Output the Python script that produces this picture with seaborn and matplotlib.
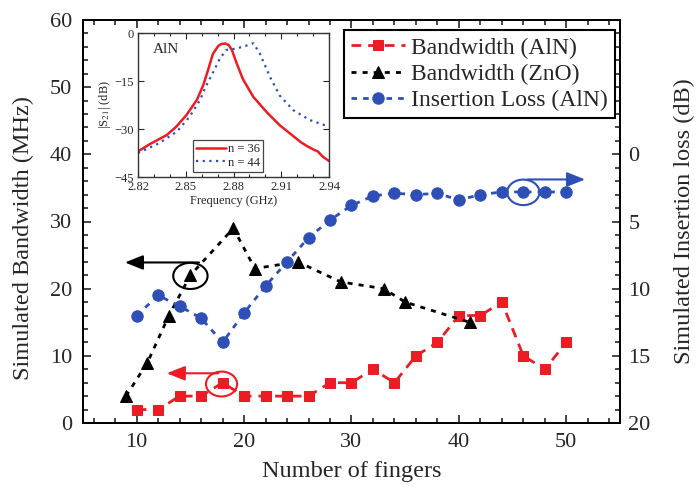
import matplotlib
matplotlib.use("Agg")
import matplotlib.pyplot as plt
import seaborn as sns
import pandas as pd
from matplotlib.patches import Ellipse
from matplotlib.ticker import MultipleLocator, FixedLocator

# ---------------- data ----------------
fingers_aln = [10, 12, 14, 16, 18, 20, 22, 24, 26, 28, 30, 32, 34, 36, 38, 40, 42, 44, 46, 48, 50]
bw_aln = [2, 2, 4, 4, 6, 4, 4, 4, 4, 6, 6, 8, 6, 10, 12, 16, 16, 18, 10, 8, 12]

fingers_zno = [9, 11, 13, 15, 19, 21, 25, 29, 33, 35, 41]
bw_zno = [4, 9, 16, 22, 29, 23, 24, 21, 20, 18, 15]

fingers_il = [10, 12, 14, 16, 18, 20, 22, 24, 26, 28, 30, 32, 34, 36, 38, 40, 42, 44, 46, 48, 50]
il_aln = [12.0, 10.5, 11.3, 12.2, 14.0, 11.8, 9.8, 8.0, 6.2, 4.9, 3.8, 3.1, 2.9, 3.0, 2.9, 3.4,
          3.0, 2.8, 2.8, 2.8, 2.8]

# inset: |S21| spectra
freq_36 = [2.820, 2.8275, 2.838, 2.844, 2.8505, 2.857, 2.861, 2.864, 2.867, 2.8705, 2.8725, 2.875,
           2.877, 2.879, 2.882, 2.886, 2.8925, 2.901, 2.909, 2.915, 2.922, 2.926, 2.931, 2.933,
           2.936, 2.940]
s21_36 = [-37.0, -34.7, -31.9, -29.3, -25.6, -20.9, -16.3, -11.6, -6.6, -4.0, -3.4, -3.3,
          -3.8, -5.3, -9.5, -14.5, -20.0, -24.8, -28.8, -31.2, -34.0, -35.3, -36.6, -37.0,
          -38.6, -40.0]
freq_44 = [2.820, 2.8265, 2.833, 2.8445, 2.8525, 2.859, 2.863, 2.8685, 2.8715, 2.8755, 2.880,
           2.886, 2.8925, 2.8965, 2.903, 2.909, 2.9175, 2.928, 2.940]
s21_44 = [-37.5, -36.0, -34.5, -30.8, -26.1, -20.9, -16.3, -11.0, -7.9, -5.3, -5.0,
          -4.3, -3.2, -6.4, -13.8, -19.5, -24.1, -27.2, -29.3]

RED = "#ec1c24"
BLUE = "#2d4fb6"
BLACK = "#000000"

sns.set_style("ticks")
plt.rcParams["font.family"] = ["Liberation Serif", "DejaVu Serif"]
plt.rcParams["mathtext.fontset"] = "stix"

W, H = 697, 491
fig = plt.figure(figsize=(W / 100, H / 100), dpi=100)
fig.patch.set_facecolor("white")
ax = fig.add_axes([83 / W, 1 - 423 / H, (620 - 83) / W, (423 - 20) / H])

df_aln = pd.DataFrame({"n": fingers_aln, "bw": bw_aln})
df_zno = pd.DataFrame({"n": fingers_zno, "bw": bw_zno})
df_il = pd.DataFrame({"n": fingers_il, "il": il_aln})

sns.lineplot(data=df_aln, x="n", y="bw", ax=ax, color=RED, marker="s", markersize=7.5,
             markeredgecolor=RED, linestyle=(0, (3.5, 2.5)), linewidth=2,
             label="Bandwidth (AlN)")
sns.lineplot(data=df_zno, x="n", y="bw", ax=ax, color=BLACK, marker="^", markersize=9,
             markeredgecolor=BLACK, linestyle=(0, (1.8, 2.2)), linewidth=2,
             label="Bandwidth (ZnO)")

ax2 = ax.twinx()
sns.lineplot(data=df_il, x="n", y="il", ax=ax2, color=BLUE, marker="o", markersize=8.2,
             markeredgecolor=BLUE, linestyle=(0, (2, 2.2)), linewidth=2,
             label="Insertion Loss (AlN)")

ax.set_xlim(5, 55)
ax.set_ylim(0, 60)
ax2.set_ylim(20, -10)

ax.xaxis.set_major_locator(MultipleLocator(10))
ax.xaxis.set_minor_locator(MultipleLocator(2))
ax.yaxis.set_major_locator(MultipleLocator(10))
ax.yaxis.set_minor_locator(MultipleLocator(2))
ax2.yaxis.set_major_locator(FixedLocator([0, 5, 10, 15, 20]))
ax2.yaxis.set_minor_locator(MultipleLocator(1))

ax.tick_params(which="both", direction="in", top=True, right=False, labelsize=16, width=1.2)
ax.tick_params(which="major", length=6)
ax.tick_params(which="minor", length=3.5)
ax.tick_params(axis="y", pad=8)
ax.tick_params(axis="x", pad=7)
ax2.tick_params(which="both", direction="in", right=True, labelsize=16, width=1.2, pad=6)
ax2.tick_params(which="major", length=6)
ax2.tick_params(which="minor", length=3.5)
for a in (ax, ax2):
    for s in a.spines.values():
        s.set_linewidth(1.3)
        s.set_color("black")

ax.set_xlabel("Number of fingers", fontsize=17.5, labelpad=7)
ax.set_ylabel("Simulated Bandwidth (MHz)", fontsize=17.5, labelpad=11, y=0.46)
ax2.set_ylabel("Simulated Insertion loss (dB)", fontsize=17.5, labelpad=17)

# annotations: ellipses + arrows
arrow_kw = dict(arrowstyle="-|>,head_length=0.55,head_width=0.22", lw=1.5,
                shrinkA=0, shrinkB=0, mutation_scale=20)
ax.add_patch(Ellipse((15.0, 21.9), 3.2, 3.9, fill=False, ec=BLACK, lw=1.5, zorder=5))
ax.annotate("", xy=(8.9, 23.9), xytext=(15.8, 23.9),
            arrowprops=dict(color=BLACK, **arrow_kw), zorder=5)
ax.add_patch(Ellipse((17.9, 5.8), 2.9, 3.7, fill=False, ec=RED, lw=1.5, zorder=5))
ax.annotate("", xy=(12.8, 7.4), xytext=(17.6, 7.4),
            arrowprops=dict(color=RED, **arrow_kw), zorder=5)
ax2.add_patch(Ellipse((46.0, 2.83), 3.0, 1.9, fill=False, ec=BLUE, lw=1.5, zorder=5))
ax2.annotate("", xy=(51.75, 1.87), xytext=(46.4, 1.87),
             arrowprops=dict(color=BLUE, **arrow_kw), zorder=5)

# legend
h1, l1 = ax.get_legend_handles_labels()
h2, l2 = ax2.get_legend_handles_labels()
if ax.get_legend() is not None:
    ax.get_legend().remove()
if ax2.get_legend() is not None:
    ax2.get_legend().remove()
leg = ax2.legend(h1 + h2, l1 + l2, loc="upper right",
                 bbox_to_anchor=(615 / W, 1 - 30 / H), bbox_transform=fig.transFigure,
                 frameon=True, fancybox=False, edgecolor="black", fontsize=17,
                 handlelength=2.3, handletextpad=0.25, labelspacing=0.2, borderaxespad=0,
                 borderpad=0.3, framealpha=1)
leg.get_frame().set_linewidth(1.5)

# inset
ins = fig.add_axes([138 / W, 1 - 177 / H, (329 - 138) / W, (177 - 33) / H])
ins.set_facecolor("white")
df36 = pd.DataFrame({"f": freq_36, "s": s21_36})
df44 = pd.DataFrame({"f": freq_44, "s": s21_44})
sns.lineplot(data=df36, x="f", y="s", ax=ins, color=RED, linewidth=1.8, label="n = 36")
sns.lineplot(data=df44, x="f", y="s", ax=ins, color=BLUE, linewidth=1.6,
             linestyle=(0, (1, 2)), label="n = 44")
ins.set_xlim(2.82, 2.94)
ins.set_ylim(-45, 0)
ins.set_xticks([2.82, 2.85, 2.88, 2.91, 2.94])
ins.set_yticks([0, -15, -30, -45])
ins.xaxis.set_minor_locator(MultipleLocator(0.01))
ins.tick_params(which="both", direction="in", top=True, right=True, labelsize=9,
                width=0.8, pad=3)
ins.tick_params(which="major", length=4)
ins.tick_params(which="minor", length=2)
for s in ins.spines.values():
    s.set_linewidth(1.0)
    s.set_color("#333333")
ins.set_xlabel("Frequency (GHz)", fontsize=9, labelpad=1)
ins.set_ylabel("|S$_{21}$| (dB)", fontsize=9, labelpad=1)
ins.text(0.08, 0.86, "AlN", transform=ins.transAxes, fontsize=11)
ileg = ins.legend(loc="lower right", bbox_to_anchor=(0.656, 0.037), fontsize=9,
                  frameon=True, fancybox=False, edgecolor="#444444", handlelength=2.4,
                  handletextpad=0.2, labelspacing=0.1, borderpad=0.25, borderaxespad=0,
                  framealpha=1)
ileg.get_frame().set_linewidth(0.9)

fig.savefig("out.png", dpi=100, facecolor="white")
